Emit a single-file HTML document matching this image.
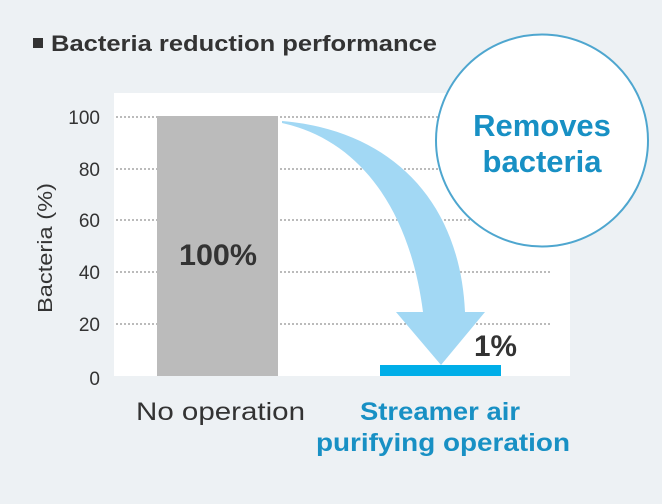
<!DOCTYPE html>
<html><head><style>
body{margin:0;width:662px;height:504px;background:#edf1f4;overflow:hidden;font-family:"Liberation Sans",sans-serif}
</style></head><body>
<svg width="662" height="504" xmlns="http://www.w3.org/2000/svg" style="position:absolute;left:0;top:0">
<rect x="114" y="93" width="456" height="283" fill="#fff"/>
<g stroke="#777" stroke-width="1" stroke-dasharray="2,2">
<line x1="116" y1="117" x2="550" y2="117"/>
<line x1="116" y1="169" x2="550" y2="169"/>
<line x1="116" y1="220" x2="550" y2="220"/>
<line x1="116" y1="272" x2="550" y2="272"/>
<line x1="116" y1="324" x2="550" y2="324"/>
</g>
<rect x="157" y="116" width="121" height="260" fill="#bbbbbb"/>
<rect x="380" y="365" width="121" height="11" fill="#00aee8"/>
<path d="M282,121 C390,130 460,200 465,312 L485,312 L441,365 L396,312 L423,312 C410,210 360,140 282,123 Z" fill="#a2d8f4"/>
<circle cx="542" cy="140.5" r="106" fill="#fff" stroke="#4ea6cf" stroke-width="2"/>
<g font-family="Liberation Sans, sans-serif" font-weight="bold" fill="#1890c4" font-size="31" text-anchor="middle">
<text x="542" y="136">Removes</text>
<text x="542" y="172">bacteria</text>
</g>
<rect x="33" y="38" width="10" height="10" fill="#333"/>
<text x="51" y="51" font-size="22" font-weight="bold" fill="#333" textLength="386" lengthAdjust="spacingAndGlyphs">Bacteria reduction performance</text>
<g font-size="19" fill="#333" text-anchor="end">
<text x="100" y="124">100</text>
<text x="100" y="176">80</text>
<text x="100" y="227">60</text>
<text x="100" y="279">40</text>
<text x="100" y="331">20</text>
<text x="100" y="385">0</text>
</g>
<text transform="translate(52,248) rotate(-90)" font-size="20" fill="#333" text-anchor="middle" textLength="130" lengthAdjust="spacingAndGlyphs">Bacteria (%)</text>
<text x="179" y="265" font-size="30" font-weight="bold" fill="#333" textLength="78" lengthAdjust="spacingAndGlyphs">100%</text>
<text x="474" y="356" font-size="30" font-weight="bold" fill="#333" textLength="43" lengthAdjust="spacingAndGlyphs">1%</text>
<text x="136" y="420" font-size="25" fill="#333" textLength="169" lengthAdjust="spacingAndGlyphs">No operation</text>
<g font-size="25" font-weight="bold" fill="#1890c4">
<text x="360" y="420" textLength="160" lengthAdjust="spacingAndGlyphs">Streamer air</text>
<text x="316" y="451" textLength="254" lengthAdjust="spacingAndGlyphs">purifying operation</text>
</g>
</svg>
</body></html>
